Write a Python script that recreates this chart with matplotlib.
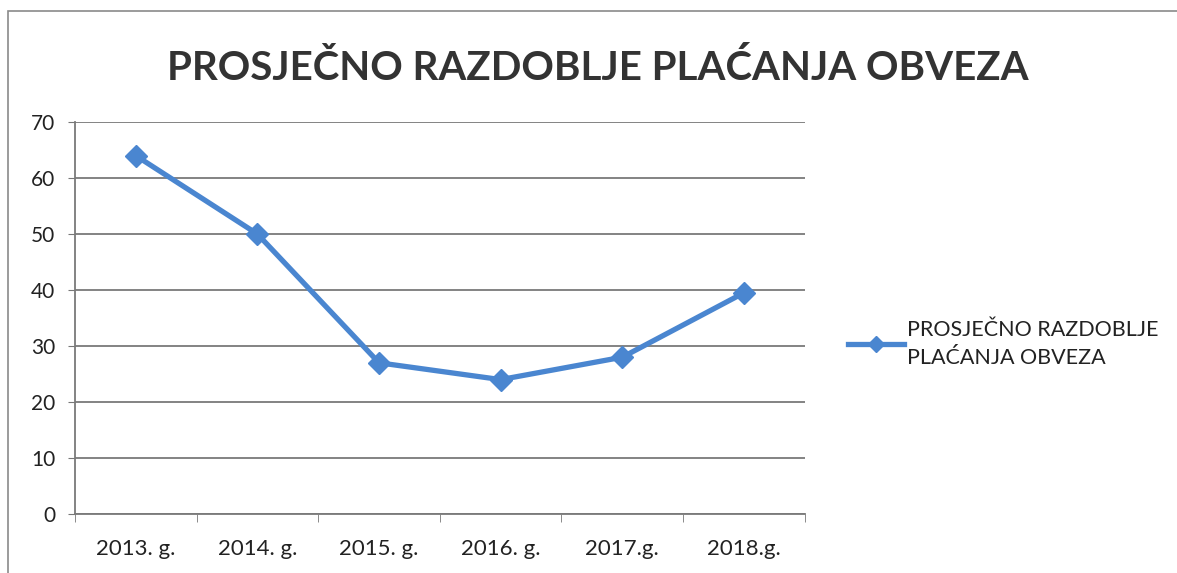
import matplotlib.pyplot as plt
from matplotlib.patches import Rectangle

years = ["2013. g.", "2014. g.", "2015. g.", "2016. g.", "2017.g.", "2018.g."]
values = [64, 50, 27, 24, 28, 39.5]
series_name = "PROSJEČNO RAZDOBLJE\nPLAĆANJA OBVEZA"
title = "PROSJEČNO RAZDOBLJE PLAĆANJA OBVEZA"

plt.rcParams['font.family'] = ['Lato', 'DejaVu Sans']

fig = plt.figure(figsize=(11.77, 5.73), dpi=100)
ax = fig.add_axes([0.0637, 0.103, 0.620, 0.684])

# chart frame
fig.patches.append(Rectangle((0.007, -0.1), 1.2, 1.08, transform=fig.transFigure,
                             fill=False, edgecolor="#8a8a8a", linewidth=1.2))

x = list(range(len(years)))
line, = ax.plot(x, values, color="#4a86d0", linewidth=3.8, marker="D",
                markersize=11, markerfacecolor="#4a86d0", markeredgecolor="#4a86d0")

ax.set_xlim(-0.5, len(years) - 0.5)
ax.set_ylim(0, 70)
ax.set_yticks(range(0, 71, 10))
ax.set_xticks(x)
ax.set_xticklabels(years, fontsize=16, color="#222222")
ax.set_xticks([i - 0.5 for i in range(len(years) + 1)], minor=True)
ax.tick_params(axis="x", which="major", length=0, pad=18)
ax.tick_params(axis="x", which="minor", length=6, color="#777777", direction="out")
ax.tick_params(axis="y", length=5, color="#777777", labelsize=15, labelcolor="#222222", pad=9)

ax.grid(axis="y", color="#7a7a7a", linewidth=1.3)
ax.set_axisbelow(True)
for s in ["top", "right"]:
    ax.spines[s].set_visible(False)
for s in ["left", "bottom"]:
    ax.spines[s].set_color("#7a7a7a")
    ax.spines[s].set_linewidth(1.3)

fig.text(0.508, 0.882, title, ha="center", va="center", fontsize=29, fontweight="bold", color="#333333")

fig.legend([line], [series_name], loc="center left", bbox_to_anchor=(0.704, 0.40),
           frameon=False, fontsize=15.5, handlelength=2.6, handletextpad=0.15,
           markerscale=0.75, labelcolor="#222222", labelspacing=0.5)
plt.setp(fig.legends[0].get_texts(), linespacing=1.5)

fig.savefig("out.png", dpi=100)
